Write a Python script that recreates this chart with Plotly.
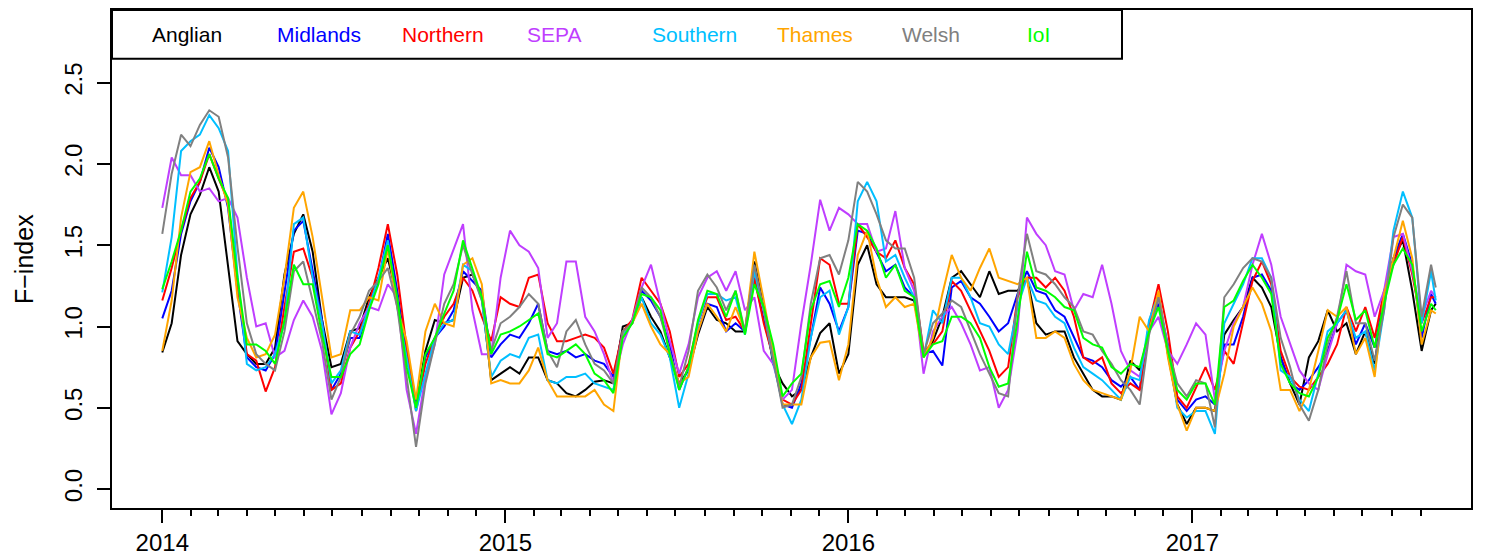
import plotly.graph_objects as go
import pandas as pd

# ---- data (one value every 10 days from 2014-01-01) ----
dates = list(pd.date_range("2014-01-01", periods=136, freq="10D")) + [pd.Timestamp("2017-09-17")]

anglian = [
    0.84, 1.02, 1.44, 1.69, 1.81, 1.98, 1.83, 1.36, 0.91, 0.83, 0.77, 0.77, 0.87, 1.32, 1.57, 1.69, 1.46, 1.04, 0.75, 0.77, 0.97, 0.99, 1.18, 1.30,
    1.42, 1.18, 0.85, 0.52, 0.85, 1.04, 1.02, 1.04, 1.30, 1.32, 1.18, 0.67, 0.71, 0.75, 0.71, 0.81, 0.81, 0.67, 0.65, 0.59, 0.57, 0.61, 0.66,
    0.67, 0.65, 1.00, 1.02, 1.18, 1.06, 0.97, 0.81, 0.65, 0.73, 0.95, 1.12, 1.04, 1.02, 0.97, 0.97, 1.40, 1.12, 0.77, 0.65, 0.57, 0.61, 0.81,
    0.96, 1.02, 0.71, 0.83, 1.38, 1.50, 1.26, 1.18, 1.18, 1.18, 1.16, 0.83, 0.91, 1.06, 1.30, 1.34, 1.26, 1.18, 1.34, 1.20, 1.22, 1.22, 1.30,
    1.02, 0.95, 0.97, 0.97, 0.81, 0.71, 0.61, 0.57, 0.57, 0.55, 0.79, 0.73, 0.97, 1.20, 0.83, 0.52, 0.40, 0.50, 0.50, 0.48, 0.95, 1.04, 1.12, 1.30,
    1.24, 1.12, 0.81, 0.65, 0.52, 0.81, 0.91, 1.10, 0.97, 1.02, 0.83, 0.97, 0.77, 1.18, 1.42, 1.53, 1.22, 0.85, 1.10,
    1.14,
]
midlands = [
    1.05, 1.22, 1.57, 1.77, 1.89, 2.10, 1.98, 1.73, 1.22, 0.81, 0.75, 0.73, 0.83, 1.22, 1.59, 1.65, 1.34, 1.04, 0.61, 0.71, 0.93, 0.93, 1.12, 1.28,
    1.57, 1.22, 0.81, 0.52, 0.81, 0.93, 1.00, 1.10, 1.34, 1.28, 1.22, 0.81, 0.89, 0.95, 0.93, 1.02, 1.14, 0.85, 0.83, 0.85, 0.81, 0.83, 0.79,
    0.77, 0.69, 0.97, 1.02, 1.22, 1.16, 1.06, 0.89, 0.61, 0.75, 0.97, 1.14, 1.12, 0.97, 1.02, 0.97, 1.30, 1.04, 0.81, 0.52, 0.50, 0.65, 0.93,
    1.24, 1.14, 0.97, 1.12, 1.59, 1.57, 1.46, 1.34, 1.38, 1.24, 1.18, 0.83, 0.85, 0.76, 1.24, 1.28, 1.18, 1.14, 1.06, 0.97, 1.02, 1.20, 1.34,
    1.22, 1.20, 1.10, 1.06, 0.93, 0.81, 0.79, 0.75, 0.67, 0.63, 0.69, 0.61, 1.02, 1.14, 0.89, 0.55, 0.48, 0.55, 0.57, 0.52, 0.89, 0.89, 1.06, 1.30,
    1.32, 1.22, 0.81, 0.65, 0.61, 0.67, 0.75, 0.85, 1.02, 1.10, 0.89, 1.02, 0.87, 1.18, 1.42, 1.57, 1.38, 0.93, 1.20,
    1.14,
]
northern = [
    1.16, 1.36, 1.59, 1.79, 1.89, 2.06, 1.91, 1.77, 1.26, 0.83, 0.79, 0.60, 0.75, 1.12, 1.46, 1.48, 1.30, 1.02, 0.61, 0.65, 0.87, 0.97, 1.14, 1.36,
    1.63, 1.32, 0.87, 0.48, 0.77, 0.93, 1.06, 1.14, 1.30, 1.22, 1.06, 0.91, 1.18, 1.14, 1.12, 1.30, 1.32, 1.02, 0.91, 0.91, 0.93, 0.95, 0.93,
    0.87, 0.71, 0.97, 1.04, 1.30, 1.22, 1.14, 0.97, 0.69, 0.77, 1.02, 1.18, 1.18, 1.04, 1.06, 0.97, 1.30, 1.02, 0.81, 0.55, 0.52, 0.61, 1.02,
    1.42, 1.38, 1.14, 1.14, 1.63, 1.55, 1.46, 1.42, 1.53, 1.36, 1.26, 0.85, 0.89, 0.97, 1.28, 1.22, 1.10, 0.97, 0.85, 0.69, 0.75, 1.18, 1.30,
    1.30, 1.24, 1.30, 1.22, 1.06, 0.81, 0.77, 0.81, 0.65, 0.59, 0.65, 0.61, 1.02, 1.26, 0.97, 0.57, 0.50, 0.63, 0.75, 0.61, 0.85, 0.77, 1.02, 1.28,
    1.40, 1.26, 0.85, 0.69, 0.63, 0.61, 0.69, 0.77, 0.89, 1.12, 0.97, 1.12, 0.93, 1.22, 1.38, 1.55, 1.32, 1.02, 1.18,
    1.18,
]
sepa = [
    1.73, 2.04, 1.93, 1.93, 1.83, 1.85, 1.77, 1.79, 1.67, 1.30, 1.00, 1.02, 0.81, 0.85, 1.04, 1.16, 1.06, 0.85, 0.46, 0.59, 0.87, 1.02, 1.12, 1.10,
    1.26, 1.18, 0.61, 0.34, 0.69, 0.89, 1.32, 1.48, 1.63, 1.10, 0.83, 0.83, 1.30, 1.59, 1.50, 1.46, 1.36, 0.93, 1.02, 1.40, 1.40, 1.06, 0.97,
    0.83, 0.65, 0.89, 1.04, 1.24, 1.38, 1.14, 0.91, 0.71, 0.89, 1.18, 1.30, 1.34, 1.22, 1.34, 1.10, 1.18, 0.85, 0.77, 0.55, 0.61, 1.02, 1.38,
    1.78, 1.59, 1.73, 1.69, 1.63, 1.63, 1.46, 1.48, 1.71, 1.36, 1.22, 0.71, 0.97, 1.06, 1.12, 1.02, 0.89, 0.73, 0.75, 0.50, 0.61, 0.97, 1.67,
    1.57, 1.50, 1.34, 1.32, 1.10, 1.20, 1.18, 1.38, 1.14, 0.85, 0.73, 0.69, 0.97, 1.06, 0.85, 0.77, 0.89, 1.02, 0.95, 0.55, 0.85, 1.02, 1.12, 1.38,
    1.57, 1.38, 1.06, 0.89, 0.73, 0.65, 0.61, 0.83, 1.02, 1.38, 1.34, 1.32, 1.06, 1.22, 1.55, 1.57, 1.34, 1.06, 1.22,
    1.18,
]
southern = [
    1.21, 1.55, 2.08, 2.14, 2.18, 2.30, 2.22, 2.08, 1.32, 0.77, 0.73, 0.75, 0.83, 1.02, 1.63, 1.67, 1.30, 1.02, 0.65, 0.73, 0.97, 0.95, 1.12, 1.30,
    1.53, 1.12, 0.81, 0.48, 0.71, 0.93, 1.02, 1.04, 1.38, 1.34, 1.16, 0.69, 0.79, 0.83, 0.81, 0.93, 0.95, 0.67, 0.65, 0.69, 0.69, 0.71, 0.65,
    0.63, 0.61, 0.95, 1.02, 1.18, 1.02, 0.95, 0.81, 0.50, 0.71, 1.02, 1.20, 1.20, 1.16, 1.18, 0.95, 1.34, 1.10, 0.79, 0.52, 0.40, 0.55, 0.93,
    1.18, 1.22, 0.95, 1.12, 1.77, 1.89, 1.77, 1.40, 1.44, 1.30, 1.18, 0.81, 1.10, 1.02, 1.30, 1.30, 1.18, 1.02, 1.00, 0.89, 0.83, 1.12, 1.30,
    1.16, 1.14, 1.06, 1.02, 0.87, 0.75, 0.71, 0.67, 0.61, 0.55, 0.69, 0.67, 1.04, 1.20, 0.87, 0.50, 0.44, 0.48, 0.48, 0.34, 1.02, 1.14, 1.26, 1.42,
    1.42, 1.30, 0.73, 0.69, 0.55, 0.48, 0.71, 0.97, 1.02, 1.10, 0.93, 0.97, 0.73, 1.10, 1.59, 1.83, 1.67, 1.02, 1.34,
    1.16,
]
thames = [
    0.85, 1.16, 1.67, 1.95, 1.98, 2.14, 1.93, 1.75, 1.18, 0.93, 0.81, 0.83, 0.95, 1.30, 1.73, 1.83, 1.55, 1.18, 0.81, 0.83, 1.10, 1.10, 1.18, 1.16,
    1.48, 1.12, 0.91, 0.55, 0.97, 1.14, 1.02, 1.00, 1.38, 1.42, 1.26, 0.65, 0.67, 0.65, 0.65, 0.73, 0.87, 0.67, 0.57, 0.57, 0.57, 0.57, 0.61,
    0.52, 0.48, 0.97, 1.02, 1.14, 1.00, 0.89, 0.83, 0.65, 0.69, 0.97, 1.14, 1.06, 0.97, 1.12, 0.97, 1.46, 1.16, 0.85, 0.52, 0.52, 0.52, 0.81,
    0.90, 0.91, 0.67, 0.89, 1.44, 1.59, 1.30, 1.12, 1.18, 1.12, 1.14, 0.81, 0.93, 1.20, 1.44, 1.30, 1.22, 1.36, 1.48, 1.30, 1.28, 1.26, 1.30,
    0.93, 0.93, 0.97, 0.93, 0.77, 0.67, 0.61, 0.59, 0.57, 0.55, 0.73, 1.06, 0.97, 1.22, 0.81, 0.52, 0.36, 0.50, 0.50, 0.48, 0.71, 1.00, 1.12, 1.24,
    1.14, 0.97, 0.61, 0.61, 0.48, 0.61, 0.85, 1.10, 1.06, 1.12, 0.83, 0.93, 0.69, 1.20, 1.42, 1.65, 1.42, 0.89, 1.10,
    1.08,
]
welsh = [
    1.57, 1.94, 2.18, 2.11, 2.24, 2.33, 2.29, 2.04, 1.49, 1.02, 0.83, 0.77, 0.73, 0.97, 1.34, 1.40, 1.16, 0.91, 0.55, 0.69, 0.95, 1.06, 1.22, 1.28,
    1.36, 1.12, 0.69, 0.26, 0.65, 0.89, 1.14, 1.26, 1.50, 1.32, 1.16, 0.85, 1.02, 1.06, 1.12, 1.20, 1.14, 0.85, 0.75, 0.97, 1.04, 0.89, 0.77,
    0.73, 0.65, 0.97, 1.02, 1.24, 1.18, 1.06, 0.85, 0.63, 0.85, 1.22, 1.32, 1.24, 1.10, 1.22, 0.97, 1.38, 1.10, 0.81, 0.50, 0.52, 0.69, 1.14,
    1.42, 1.44, 1.32, 1.53, 1.89, 1.83, 1.69, 1.53, 1.48, 1.48, 1.30, 0.83, 1.02, 1.08, 1.16, 1.12, 0.97, 0.83, 0.71, 0.59, 0.57, 1.18, 1.57,
    1.34, 1.32, 1.26, 1.18, 1.12, 0.97, 0.95, 0.85, 0.77, 0.67, 0.61, 0.52, 0.95, 1.18, 0.87, 0.65, 0.57, 0.67, 0.65, 0.38, 1.18, 1.26, 1.36, 1.42,
    1.40, 1.30, 0.93, 0.75, 0.52, 0.42, 0.61, 0.89, 1.06, 1.34, 1.02, 1.02, 0.79, 1.10, 1.55, 1.75, 1.67, 1.06, 1.38,
    1.24,
]
ioi = [
    1.23, 1.40, 1.59, 1.83, 1.91, 2.06, 1.91, 1.79, 1.30, 0.89, 0.89, 0.85, 0.77, 1.04, 1.38, 1.26, 1.26, 0.95, 0.69, 0.69, 0.83, 0.89, 1.10, 1.26,
    1.50, 1.18, 0.75, 0.50, 0.83, 0.93, 1.08, 1.22, 1.53, 1.36, 1.18, 0.83, 0.95, 0.97, 1.00, 1.04, 1.08, 0.83, 0.81, 0.85, 0.89, 0.83, 0.71,
    0.67, 0.59, 0.93, 1.02, 1.20, 1.18, 1.10, 0.83, 0.61, 0.75, 1.04, 1.22, 1.20, 1.06, 1.22, 0.95, 1.26, 1.12, 0.89, 0.57, 0.65, 0.71, 1.10,
    1.26, 1.28, 1.12, 1.30, 1.63, 1.59, 1.48, 1.30, 1.38, 1.22, 1.18, 0.81, 0.89, 0.91, 1.06, 1.06, 1.02, 0.93, 0.75, 0.63, 0.65, 1.04, 1.46,
    1.24, 1.22, 1.18, 1.12, 1.10, 0.93, 0.89, 0.87, 0.75, 0.71, 0.77, 0.75, 0.97, 1.12, 0.85, 0.61, 0.55, 0.65, 0.65, 0.52, 1.12, 1.16, 1.28, 1.38,
    1.30, 1.20, 0.77, 0.65, 0.59, 0.57, 0.69, 0.93, 1.04, 1.26, 1.04, 1.10, 0.87, 1.14, 1.38, 1.48, 1.38, 0.97, 1.14,
    1.10,
]

names = ["Anglian", "Midlands", "Northern", "SEPA", "Southern", "Thames", "Welsh", "IoI"]
series = [anglian, midlands, northern, sepa, southern, thames, welsh, ioi]
colors = ["#000000", "#0000FF", "#FF0000", "#BF3EFF", "#00BFFF", "#FFA500", "#808080", "#00FF00"]

year_ticks = ["2014-01-01", "2015-01-01", "2016-01-01", "2017-01-01"]
year_labels = ["2014", "2015", "2016", "2017"]
month_ticks = [d.strftime("%Y-%m-%d") for d in pd.date_range("2014-02-01", "2017-09-01", freq="MS")
               if d.month != 1]
y_ticks = [0.0, 0.5, 1.0, 1.5, 2.0, 2.5]
y_labels = ["0.0", "0.5", "1.0", "1.5", "2.0", "2.5"]

for s in series:
    assert len(s) == len(dates), len(s)

FONT = "Liberation Sans, Arial, Helvetica, sans-serif"

# plot area on screen (page adds an 8px body margin): x 112..1471, y 8..508
PX0, PX1, PY0, PY1 = 112, 1471, 8, 508
def px(sx):
    return (sx - PX0) / (PX1 - PX0)
def py(sy):
    return (PY1 - sy) / (PY1 - PY0)

fig = go.Figure()
for name, vals, col in zip(names, series, colors):
    fig.add_trace(go.Scatter(x=dates, y=vals, mode="lines", name=name,
                             line=dict(color=col, width=2), showlegend=False))

fig.update_layout(
    width=1486, height=557,
    margin=dict(l=104, r=23, t=0, b=57, pad=0),
    paper_bgcolor="white", plot_bgcolor="white",
    font=dict(family=FONT, color="black"),
    xaxis=dict(
        type="date", range=["2013-11-08 12:00", "2017-10-24 12:00"],
        showgrid=False, zeroline=False,
        showline=True, linecolor="black", linewidth=2, mirror=True,
        ticks="outside", ticklen=13, tickwidth=2, tickcolor="black",
        tickmode="array", tickvals=year_ticks, ticktext=year_labels,
        ticklabelstandoff=-1,
        tickfont=dict(size=24, family=FONT, color="black"),
        minor=dict(tickmode="array", tickvals=month_ticks, ticks="outside",
                   ticklen=6, tickwidth=2, tickcolor="black", showgrid=False),
    ),
    yaxis=dict(
        range=[-0.1164, 2.947],
        showgrid=False, zeroline=False,
        showline=True, linecolor="black", linewidth=2, mirror=True,
        ticks="outside", ticklen=13, tickwidth=2, tickcolor="black",
        tickmode="array", tickvals=y_ticks, ticktext=y_labels,
        tickangle=-90, ticklabelstandoff=5,
        tickfont=dict(size=24, family=FONT, color="black"),
    ),
)

# y axis title
fig.add_annotation(text="F\u2212index", xref="paper", yref="paper",
                   x=px(24), y=0.5, xanchor="center", yanchor="middle",
                   textangle=-90, showarrow=False,
                   font=dict(size=25, family=FONT, color="black"))

# legend box drawn inside the top of the plot
fig.add_shape(type="rect", xref="paper", yref="paper",
              x0=0, x1=px(1122), y0=py(57), y1=1.0,
              line=dict(color="black", width=2), fillcolor="white", layer="above")
for i, (name, col) in enumerate(zip(names, colors)):
    fig.add_annotation(text=name, xref="paper", yref="paper",
                       x=px(150 + 125 * i), y=py(33),
                       xanchor="left", yanchor="middle", showarrow=False,
                       font=dict(size=21, family=FONT, color=col))

fig.write_html("out.html")
